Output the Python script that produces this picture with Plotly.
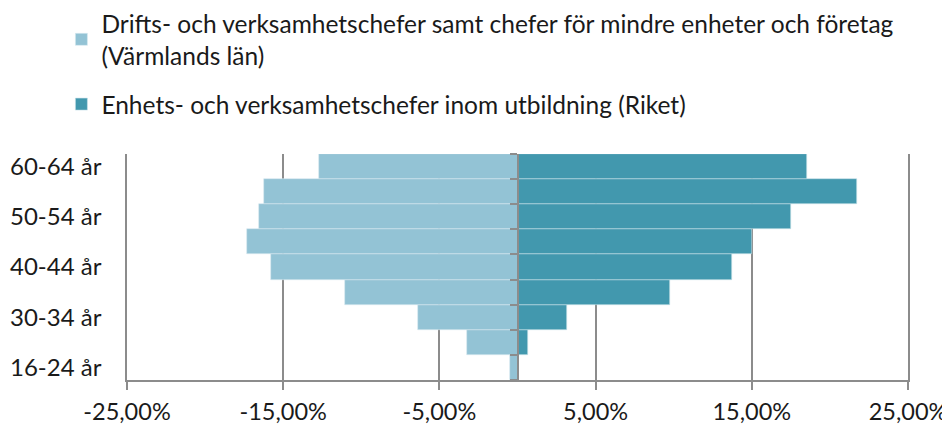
import plotly.graph_objects as go

age_groups = ["16-24 år", "25-29 år", "30-34 år", "35-39 år", "40-44 år",
              "45-49 år", "50-54 år", "55-59 år", "60-64 år"]
varmland = [-0.47, -3.24, -6.36, -11.03, -15.78, -17.30, -16.57, -16.21, -12.69]
riket = [0.0, 0.64, 3.15, 9.76, 13.73, 15.03, 17.53, 21.71, 18.55]
name_varmland = "Drifts- och verksamhetschefer samt chefer för mindre enheter och företag<br>(Värmlands län)"
name_riket = "Enhets- och verksamhetschefer inom utbildning (Riket)"
x_ticks = [-25, -15, -5, 5, 15, 25]
x_ticktext = ["-25,00%", "-15,00%", "-5,00%", "5,00%", "15,00%", "25,00%"]
y_ticks = ["16-24 år", "30-34 år", "40-44 år", "50-54 år", "60-64 år"]

light = "#93C3D5"
dark = "#4298AE"
grid = "#8C8C8C"
FONT = "Lato"

fig = go.Figure()
fig.add_trace(go.Bar(y=age_groups, x=varmland, orientation="h", name=name_varmland,
                     legendgroup="a",
                     marker=dict(color=light, line=dict(color="#D6EAF0", width=0.6))))
fig.add_trace(go.Bar(y=age_groups, x=riket, orientation="h", name=name_riket,
                     legendgroup="b", yaxis="y2",
                     marker=dict(color=dark, line=dict(color="#C9E3EA", width=0.6))))

fig.update_layout(
    width=950, height=425,
    margin=dict(l=119, r=50, t=146, b=53, autoexpand=False),
    barmode="overlay", bargap=0,
    plot_bgcolor="white", paper_bgcolor="white",
    font=dict(family=FONT, size=24, color="#1a1a1a"),
    legend=dict(orientation="v", x=-0.084, xanchor="left", y=1.677, yanchor="top",
                font=dict(size=24.5), tracegroupgap=14, itemwidth=30,
                bgcolor="rgba(0,0,0,0)"),
    xaxis=dict(range=[-25, 25], tickvals=x_ticks, ticktext=x_ticktext,
               showgrid=True, gridcolor=grid, gridwidth=1.5,
               zeroline=False, showline=True, linecolor=grid, linewidth=2,
               ticks="outside", ticklen=8, tickwidth=2, tickcolor=grid,
               ticklabelstandoff=2, tickfont=dict(size=23.5)),
    yaxis=dict(type="category", categoryorder="array", categoryarray=age_groups,
               range=[-0.5, 8.5], tickvals=y_ticks, showgrid=False, zeroline=False,
               showline=True, mirror=True, linecolor=grid, linewidth=1.5,
               ticks="", ticklabelstandoff=19, tickfont=dict(size=24)),
    yaxis2=dict(type="category", categoryorder="array", categoryarray=age_groups,
                overlaying="y", anchor="free", position=0.5, side="left",
                range=[-0.5, 8.5], tickson="boundaries", showticklabels=False,
                ticks="outside", ticklen=7, tickwidth=2, tickcolor=grid,
                showline=True, linecolor=grid, linewidth=2, showgrid=False,
                zeroline=False),
)

fig.write_html("out.html")
